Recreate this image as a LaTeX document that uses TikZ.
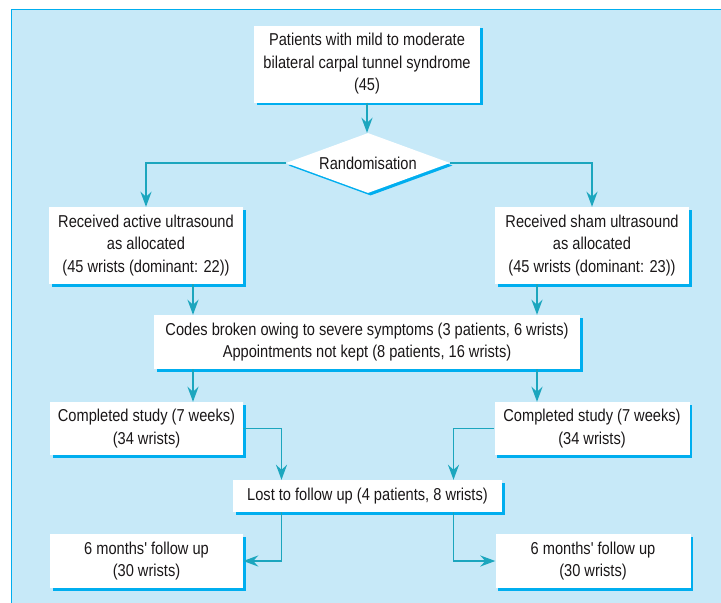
\documentclass[tikz,border=0pt]{standalone}
\usepackage{fontspec}
\newfontfamily\diagfont{Liberation Sans}[FakeStretch=0.85]
\usetikzlibrary{shapes.geometric,arrows.meta,shadows}
\definecolor{panelbg}{HTML}{C7E9F8}
\definecolor{edgeblue}{HTML}{00AEEF}
\definecolor{arrowteal}{HTML}{1CA6BE}
\definecolor{ink}{HTML}{1A1718}
\begin{document}
\begin{tikzpicture}[x=1pt,y=-1pt,
  box/.style={fill=white, rectangle, inner sep=0pt, align=center, text=ink,
    font=\diagfont\fontsize{17.2}{22.5}\selectfont,
    drop shadow={shadow xshift=2.5pt, shadow yshift=-2.5pt, fill=edgeblue, opacity=1}},
  conn/.style={draw=arrowteal, line width=1.9pt, -{Stealth[length=15pt,width=11pt,inset=5pt]}}]
\useasboundingbox (0,0) rectangle (721,603);
\fill[panelbg] (11,9) rectangle (721,603);
\draw[edgeblue, line width=1.3pt] (11.5,603) -- (11.5,9.5) -- (721,9.5);

\node[box, minimum width=226pt, minimum height=77pt] (top) at (367,64)
  {Patients with mild to moderate\\bilateral carpal tunnel syndrome\\(45)};
\node[box, shape=diamond, aspect=2.73, minimum width=164pt, minimum height=60pt] (rand) at (368,163)
  {Randomisation};
\node[box, minimum width=194pt, minimum height=77pt] (la) at (146,245.5)
  {Received active ultrasound\\as allocated\\(45 wrists (dominant: 22))};
\node[box, minimum width=194pt, minimum height=77pt] (ra) at (592,245.5)
  {Received sham ultrasound\\as allocated\\(45 wrists (dominant: 23))};
\node[box, minimum width=426pt, minimum height=54pt] (mid) at (367,342)
  {Codes broken owing to severe symptoms (3 patients, 6 wrists)\\Appointments not kept (8 patients, 16 wrists)};
\node[box, minimum width=193pt, minimum height=53pt] (cl) at (146.5,428.5)
  {Completed study (7 weeks)\\(34 wrists)};
\node[box, minimum width=195pt, minimum height=53pt] (cr) at (592,428.5)
  {Completed study (7 weeks)\\(34 wrists)};
\node[box, minimum width=269pt, minimum height=32pt] (lost) at (367.5,496)
  {Lost to follow up (4 patients, 8 wrists)};
\node[box, minimum width=193pt, minimum height=54pt] (fl) at (146.5,561)
  {6 months' follow up\\(30 wrists)};
\node[box, minimum width=195pt, minimum height=54pt] (fr) at (593,561)
  {6 months' follow up\\(30 wrists)};

\draw[conn] (top.south) -- (top.south |- rand.north);
\draw[conn] (rand.west) -| (la.north);
\draw[conn] (rand.east) -| (ra.north);
\draw[conn] ([xshift=47pt]la.south) -- ([xshift=47pt]la.south |- mid.north);
\draw[conn] ([xshift=-55pt]ra.south) -- ([xshift=-55pt]ra.south |- mid.north);
\draw[conn] ([xshift=47pt]la.south |- mid.south) -- ([xshift=47pt]la.south |- cl.north);
\draw[conn] ([xshift=-55pt]ra.south |- mid.south) -- ([xshift=-55pt]ra.south |- cr.north);
\draw[conn] (cl.east) -| ([xshift=-86pt]lost.north);
\draw[conn] (cr.west) -| ([xshift=86pt]lost.north);
\draw[conn] ([xshift=-86pt]lost.south) |- (fl.east);
\draw[conn] ([xshift=86pt]lost.south) |- (fr.west);
\end{tikzpicture}
\end{document}
